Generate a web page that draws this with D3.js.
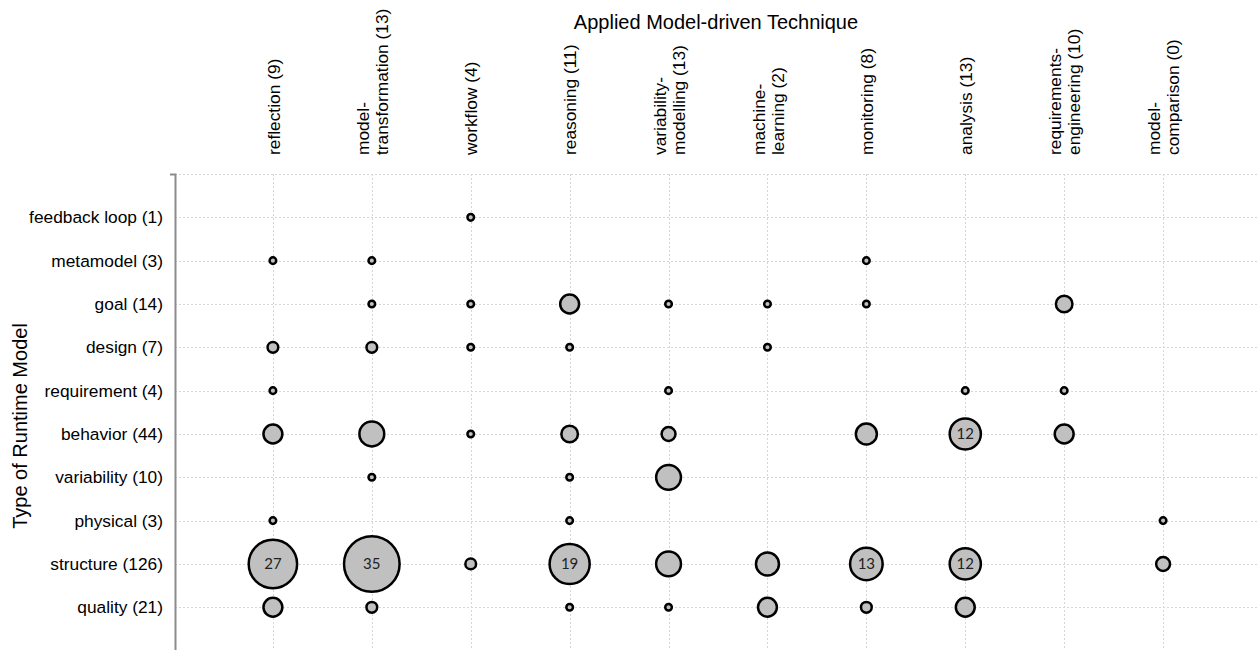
<!DOCTYPE html>
<html>
<head>
<meta charset="utf-8">
<script src="https://cdn.jsdelivr.net/npm/d3@7/dist/d3.min.js"></script>
<style>
  html, body { margin: 0; padding: 0; background: #fff; }
  svg { display: block; }
  text { font-family: "Liberation Sans", Arial, sans-serif; fill: #000; }
</style>
</head>
<body>
<svg id="chart" width="1259" height="650"></svg>
<script>
// ---- data ----
const rowLabels = [
  "feedback loop (1)", "metamodel (3)", "goal (14)", "design (7)", "requirement (4)",
  "behavior (44)", "variability (10)", "physical (3)", "structure (126)", "quality (21)"
];
const colKeys = [
  "reflection", "model-transformation", "workflow", "reasoning", "variability-modelling",
  "machine-learning", "monitoring", "analysis", "requirements-engineering", "model-comparison"
];
const colLabelLines = [
  ["reflection (9)"],
  ["model-", "transformation (13)"],
  ["workflow (4)"],
  ["reasoning (11)"],
  ["variability-", "modelling (13)"],
  ["machine-", "learning (2)"],
  ["monitoring (8)"],
  ["analysis (13)"],
  ["requirements-", "engineering (10)"],
  ["model-", "comparison (0)"]
];
// counts[row][col]
const counts = [
  [0, 0, 1, 0, 0, 0, 0, 0, 0, 0],
  [1, 1, 0, 0, 0, 0, 1, 0, 0, 0],
  [0, 1, 1, 5, 1, 1, 1, 0, 4, 0],
  [2, 2, 1, 1, 0, 1, 0, 0, 0, 0],
  [1, 0, 0, 0, 1, 0, 0, 1, 1, 0],
  [5, 8, 1, 4, 3, 0, 6, 12, 5, 0],
  [0, 1, 0, 1, 8, 0, 0, 0, 0, 0],
  [1, 0, 0, 1, 0, 0, 0, 0, 0, 1],
  [27, 35, 2, 19, 8, 7, 13, 12, 0, 3],
  [5, 2, 0, 1, 1, 5, 2, 5, 0, 0]
];
const xTitle = "Applied Model-driven Technique";
const yTitle = "Type of Runtime Model";
const labelThreshold = 12;

// ---- layout ----
const svg = d3.select("#chart");
const pLeft = 175, pRight = 1262, pTop = 174, pBottom = 650.6;

const x = d3.scalePoint().domain(colKeys).range([pLeft - 1, pRight]).padding(1);
const y = d3.scalePoint().domain(rowLabels).range([pTop, pBottom]).padding(1);
const r = d3.scaleSqrt().domain([1, 35]).range([3.3, 27.8]);

// grid
const grid = svg.append("g").attr("stroke", "#d6d6d6").attr("stroke-width", 1)
  .attr("stroke-dasharray", "2,2").attr("fill", "none");
const hLines = [pTop].concat(rowLabels.map(d => y(d)));
grid.selectAll("line.h").data(hLines).join("line")
  .attr("class", "h")
  .attr("x1", pLeft).attr("x2", pRight)
  .attr("y1", d => Math.round(d) + 0.5).attr("y2", d => Math.round(d) + 0.5);
grid.selectAll("line.v").data(colKeys).join("line")
  .attr("class", "v")
  .attr("x1", d => Math.round(x(d)) + 0.5).attr("x2", d => Math.round(x(d)) + 0.5)
  .attr("y1", pTop).attr("y2", pBottom);

// y axis
const yAxis = svg.append("g")
  .attr("transform", `translate(${pLeft},0)`)
  .call(d3.axisLeft(y).tickSizeInner(0).tickSizeOuter(5).tickPadding(12));
yAxis.select(".domain").attr("stroke", "#8c8c8c").attr("stroke-width", 2);
yAxis.selectAll(".tick text")
  .attr("font-size", "17.33px")
  .attr("font-family", "'Liberation Sans', Arial, sans-serif")
  .attr("fill", "#000");

// column labels
const fs = 17.33, lh = 19;
const colG = svg.append("g");
colKeys.forEach((k, i) => {
  const lines = colLabelLines[i];
  const n = lines.length;
  lines.forEach((ln, j) => {
    const bx = x(k) + 6.6 + (j - (n - 1) / 2) * lh;
    colG.append("text")
      .attr("transform", `translate(${bx},155) rotate(-90)`)
      .attr("text-anchor", "start")
      .attr("font-size", fs + "px")
      .text(ln);
  });
});

// titles
svg.append("text")
  .attr("x", 716).attr("y", 29)
  .attr("text-anchor", "middle")
  .attr("font-size", "20px")
  .text(xTitle);
svg.append("text")
  .attr("transform", "translate(27,426) rotate(-90)")
  .attr("text-anchor", "middle")
  .attr("font-size", "20px")
  .text(yTitle);

// bubbles
const cells = [];
counts.forEach((row, ri) => row.forEach((v, ci) => {
  if (v > 0) cells.push({ row: rowLabels[ri], col: colKeys[ci], v });
}));
cells.sort((a, b) => b.v - a.v);

const bub = svg.append("g");
bub.selectAll("circle").data(cells).join("circle")
  .attr("cx", d => x(d.col))
  .attr("cy", d => y(d.row))
  .attr("r", d => r(d.v))
  .attr("fill", "#c0c0c0")
  .attr("stroke", "#000")
  .attr("stroke-width", 2.5);

bub.selectAll("text").data(cells.filter(d => d.v >= labelThreshold)).join("text")
  .attr("x", d => x(d.col))
  .attr("y", d => y(d.row))
  .attr("dy", "0.36em")
  .attr("text-anchor", "middle")
  .attr("font-size", "15px")
  .style("font-family", "Lato, 'Open Sans', sans-serif")
  .style("fill", "#222")
  .text(d => d.v);
</script>
</body>
</html>
